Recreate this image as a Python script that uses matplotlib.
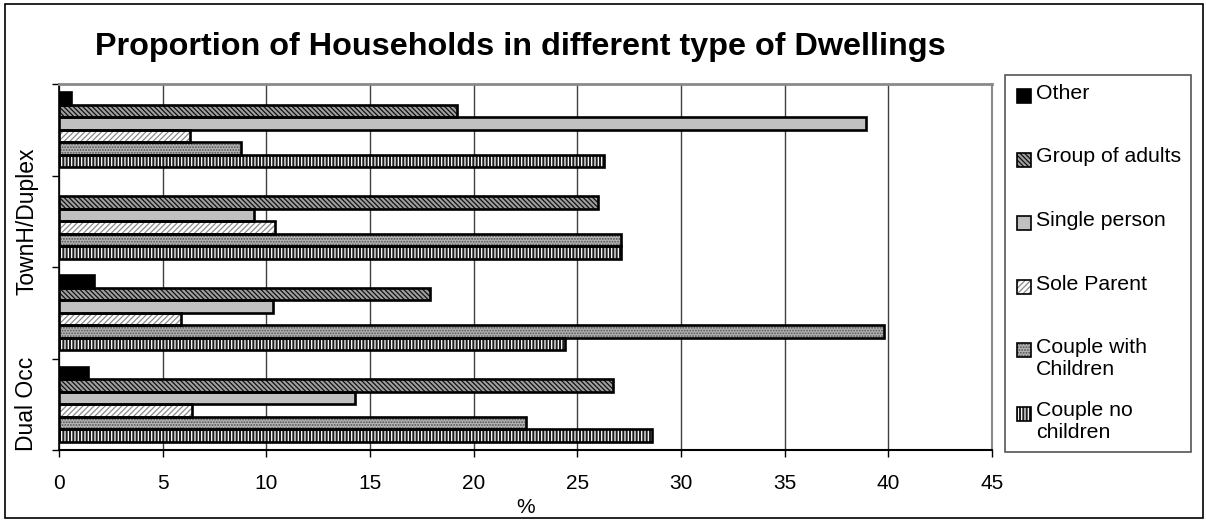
import numpy as np
import matplotlib
matplotlib.use("Agg")
import matplotlib.pyplot as plt
from matplotlib.patches import Rectangle

plt.rcParams["font.family"] = ["Liberation Sans", "DejaVu Sans"]
plt.rcParams["hatch.linewidth"] = 0.9

# --- data (percent of households), categories from bottom to top ---
categories = ["Dual Occ", "", "TownH/Duplex", ""]
series_names = ["Couple no\nchildren", "Couple with\nChildren", "Sole Parent",
                "Single person", "Group of adults", "Other"]
couple_no_children = [28.6, 24.4, 27.1, 26.3]
couple_with_children = [22.5, 39.8, 27.1, 8.8]
sole_parent = [6.4, 5.9, 10.4, 6.3]
single_person = [14.3, 10.3, 9.4, 38.9]
group_of_adults = [26.7, 17.9, 26.0, 19.2]
other = [1.4, 1.7, 0.0, 0.6]
values = [couple_no_children, couple_with_children, sole_parent,
          single_person, group_of_adults, other]

# fill colour, hatch, hatch colour for each series (same order as above)
styles = [
    ("#202020", "|||||", "white"),
    ("#b4b4b4", "......", "#505050"),
    ("white", "//////", "#8a8a8a"),
    ("#c0c0c0", None, "#c0c0c0"),
    ("#a0a0a0", "\\\\\\\\\\\\\\", "#101010"),
    ("black", None, "black"),
]

W, H = 1206, 521
fig = plt.figure(figsize=(W / 100, H / 100), dpi=100)

def fx(px):
    return px / W

def fy(py):
    return 1 - py / H

# plot area in pixels: left 59, right 992, top 84, bottom 450
ax = fig.add_axes([fx(59), fy(450), fx(992) - fx(59), fy(84) - fy(450)])

y = np.arange(len(categories))
n = len(series_names)
h = 0.137
offsets = (np.arange(n) - (n - 1) / 2) * h

for vals, off, (fc, hatch, hc) in zip(values, offsets, styles):
    vals = np.array(vals)
    ax.barh(y + off, vals, height=h, color=fc, hatch=hatch, edgecolor=hc,
            linewidth=0, zorder=3)
    shown = vals > 0
    ax.barh((y + off)[shown], vals[shown], height=h, fill=False, edgecolor="black",
            linewidth=1.9, zorder=4)

ax.set_xlim(0, 45)
ax.set_ylim(-0.5, len(categories) - 0.5)
ax.set_xticks(np.arange(0, 46, 5))
ax.tick_params(axis="x", labelsize=15, length=5, width=1, pad=12, direction="out")
ax.set_yticks(y, labels=categories, rotation=90, va="center", fontsize=16.5)
ax.set_yticks(np.arange(-0.5, len(categories), 1), minor=True)
ax.tick_params(axis="y", which="major", length=0, pad=15)
ax.tick_params(axis="y", which="minor", length=5, width=1, direction="out")
ax.set_xlabel("%", fontsize=15, labelpad=4)

ax.grid(axis="x", color="#404040", linewidth=1, zorder=0)
ax.spines["top"].set_color("#8a8a8a")
ax.spines["top"].set_linewidth(2)
ax.spines["right"].set_color("#8a8a8a")
ax.spines["right"].set_linewidth(1.5)
ax.spines["left"].set_linewidth(1.2)
ax.spines["bottom"].set_linewidth(1.5)

fig.text(fx(520), fy(47), "Proportion of Households in different type of Dwellings",
         ha="center", va="center", fontsize=23.3, fontweight="bold")

# legend box drawn by hand so each entry keeps the even Excel spacing
fig.add_artist(Rectangle((fx(1005), fy(452)), fx(1191) - fx(1005), fy(75) - fy(452),
                         transform=fig.transFigure, facecolor="white",
                         edgecolor="#555555", linewidth=1.2))
for i, k in enumerate(reversed(range(n))):
    fc, hatch, hc = styles[k]
    yc = 96 + i * 63.5
    fig.add_artist(Rectangle((fx(1017), fy(yc + 7)), fx(14), fy(0) - fy(14),
                             transform=fig.transFigure, facecolor=fc, hatch=hatch,
                             edgecolor=hc, linewidth=0))
    fig.add_artist(Rectangle((fx(1017), fy(yc + 7)), fx(14), fy(0) - fy(14),
                             transform=fig.transFigure, fill=False,
                             edgecolor="black", linewidth=1.2))
    fig.text(fx(1036), fy(yc - 12), series_names[k], ha="left", va="top",
             fontsize=15.3, linespacing=1.2)

# outer chart border
fig.add_artist(Rectangle((fx(5), fy(518)), fx(1203) - fx(5), fy(4) - fy(518),
                         transform=fig.transFigure, fill=False,
                         edgecolor="black", linewidth=1.2))

fig.savefig("out.png", dpi=100)
